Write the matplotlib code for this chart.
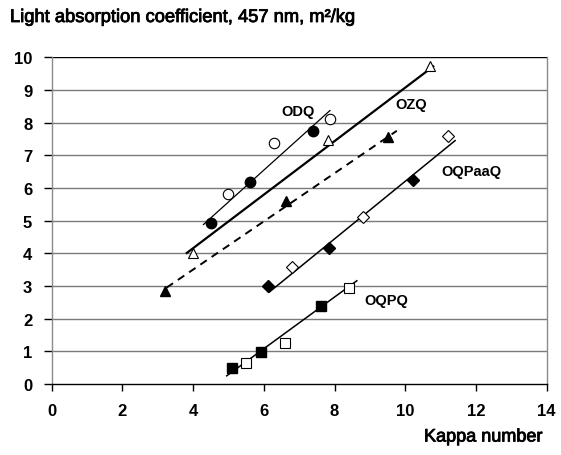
import matplotlib
matplotlib.use("Agg")
import matplotlib.pyplot as plt
import matplotlib.patheffects as pe
import numpy as np

plt.rcParams['font.family'] = ['Liberation Sans', 'DejaVu Sans']

# ODQ
odq_filled_x = [4.50, 5.61, 7.40]
odq_filled_y = [4.93, 6.17, 7.75]
odq_open_x = [4.99, 6.30, 7.87]
odq_open_y = [5.82, 7.37, 8.11]
odq_line_x = [4.29, 7.87]
odq_line_y = [4.88, 8.37]

# OZQ (open triangles, solid line)
ozq_open_x = [4.00, 7.81, 10.70]
ozq_open_y = [4.01, 7.47, 9.74]
ozq_line_x = [3.82, 10.79]
ozq_line_y = [4.01, 9.72]

# filled triangles (dashed line)
tri_filled_x = [3.20, 6.63, 9.52]
tri_filled_y = [2.86, 5.61, 7.55]
tri_line_x = [3.25, 9.76]
tri_line_y = [2.95, 7.75]

# OQPaaQ
paa_filled_x = [6.13, 7.84, 10.21]
paa_filled_y = [2.99, 4.16, 6.25]
paa_open_x = [6.81, 8.81, 11.22]
paa_open_y = [3.57, 5.12, 7.58]
paa_line_x = [6.15, 11.41]
paa_line_y = [2.81, 7.45]

# OQPQ
oqpq_filled_x = [5.09, 5.92, 7.61]
oqpq_filled_y = [0.48, 0.97, 2.38]
oqpq_open_x = [5.49, 6.60, 8.42]
oqpq_open_y = [0.64, 1.25, 2.93]
oqpq_line_x = [4.95, 8.63]
oqpq_line_y = [0.25, 3.16]

x_ticks = [0, 2, 4, 6, 8, 10, 12, 14]
y_ticks = [0, 1, 2, 3, 4, 5, 6, 7, 8, 9, 10]

labels = ["ODQ", "OZQ", "OQPaaQ", "OQPQ"]
label_x = [6.98, 10.17, 11.88, 9.47]
label_y = [8.37, 8.57, 6.53, 2.57]

fig = plt.figure(figsize=(5.61, 4.56), dpi=100)
ax = fig.add_axes([51.7/561, 1-385/456, (546.7-51.7)/561, (385-58.3)/456])
ax.set_xlim(0, 14)
ax.set_ylim(0, 10)

for yv in y_ticks[1:]:
    ax.axhline(yv, color='#000000' if yv == 10 else '#7a7a7a', lw=1.0, zorder=1)

ax.spines['top'].set_visible(False)
ax.spines['right'].set_color('#8a8a8a')
ax.spines['left'].set_color('#8a8a8a')
ax.spines['bottom'].set_color('#000000')
for s in ax.spines.values():
    s.set_linewidth(1.0)

# trend lines
ax.plot(odq_line_x, odq_line_y, color='black', lw=0.9, zorder=2)
ax.plot(ozq_line_x, ozq_line_y, color='black', lw=1.6, zorder=2)
ax.plot(tri_line_x, tri_line_y, color='black', lw=1.4, ls=(0, (4, 3)), zorder=2)
ax.plot(paa_line_x, paa_line_y, color='black', lw=1.1, zorder=2)
ax.plot(oqpq_line_x, oqpq_line_y, color='black', lw=1.1, zorder=2)

ms = 7.5
ax.plot(odq_filled_x, odq_filled_y, 'o', color='black', ms=ms, zorder=3)
ax.plot(odq_open_x, odq_open_y, 'o', mfc='white', mec='black', mew=0.8, ms=ms, zorder=3)
ax.plot(ozq_open_x, ozq_open_y, '^', mfc='white', mec='black', mew=0.8, ms=ms, zorder=3)
ax.plot(tri_filled_x, tri_filled_y, '^', color='black', ms=ms, zorder=3)
ax.plot(paa_filled_x, paa_filled_y, 'D', color='black', ms=6.5, zorder=3)
ax.plot(paa_open_x, paa_open_y, 'D', mfc='white', mec='black', mew=0.8, ms=6.5, zorder=3)
ax.plot(oqpq_filled_x, oqpq_filled_y, 's', color='black', ms=7, zorder=3)
ax.plot(oqpq_open_x, oqpq_open_y, 's', mfc='white', mec='black', mew=0.8, ms=7, zorder=3)

for t, lx, ly in zip(labels, label_x, label_y):
    ax.text(lx, ly, t, fontsize=10.5, fontweight='bold', ha='center', va='center', zorder=4)

ax.set_xticks(x_ticks)
ax.set_yticks(y_ticks)
ax.set_xticklabels([str(v) for v in x_ticks], fontsize=12, fontweight='bold')
ax.set_yticklabels([str(v) for v in y_ticks], fontsize=12, fontweight='bold')
ax.tick_params(axis='x', direction='out', length=5, width=1.0, pad=9, color='black')
ax.tick_params(axis='y', direction='out', length=6, width=1.0, pad=8, color='#000000')

heavy = [pe.withStroke(linewidth=0.6, foreground='black')]
fig.text(10/561, 1-23/456, "Light absorption coefficient, 457 nm, m\u00b2/kg",
         fontsize=13.2, ha='left', va='baseline', path_effects=heavy)
fig.text(483/561, 1-438/456, "Kappa number", fontsize=13, ha='center', va='center',
         path_effects=heavy)

fig.savefig("out.png", dpi=100)
